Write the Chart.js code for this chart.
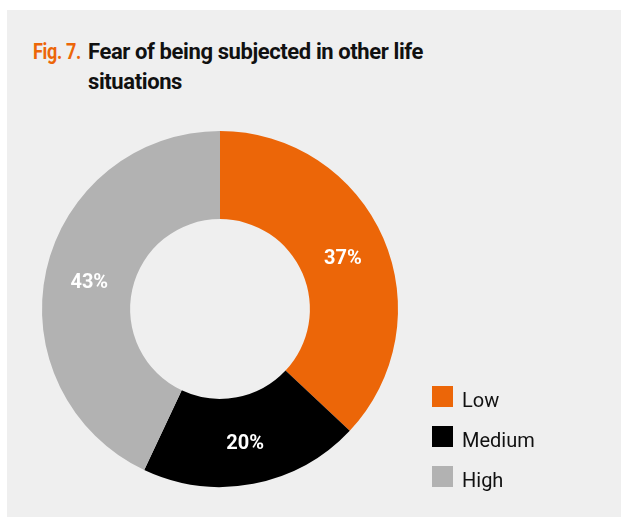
<!DOCTYPE html>
<html>
<head>
<meta charset="utf-8">
<script src="https://cdn.jsdelivr.net/npm/chart.js@4"></script>
<style>
  html, body { margin: 0; padding: 0; background: #ffffff; }
  body { width: 621px; height: 517px; position: relative; overflow: hidden; }
  .panel { position: absolute; left: 7px; top: 10px; right: 0; bottom: 0; background: #efefef; }
  .title { position: absolute; left: 0; top: 37px; font-family: Roboto, sans-serif; white-space: nowrap;
           font-weight: bold; font-size: 22px; line-height: 30px; letter-spacing: -0.4px; color: #111; }
  .title .fig { color: #ec6608; position: absolute; left: 33px; top: 0;
                transform: scaleX(0.82); transform-origin: left center; }
  .title .txt { position: absolute; left: 88px; top: 0; }
  canvas { position: absolute; left: 0; top: 0; }
</style>
</head>
<body>
<div class="panel"></div>
<div class="title">
  <span class="fig">Fig. 7.</span>
  <span class="txt">Fear of being subjected in other life<br>situations</span>
</div>
<canvas id="chart" width="621" height="517"></canvas>
<script>
// shares of respondents by fear level
const levels = ['Low', 'Medium', 'High'];
const shares = [37, 20, 43];
const colors = ['#ec6608', '#000000', '#b2b2b2'];

// white percentage text on each slice
const sliceLabels = {
    id: 'sliceLabels',
    afterDatasetsDraw(chart) {
        const ctx = chart.ctx;
        const meta = chart.getDatasetMeta(0);
        ctx.save();
        ctx.fillStyle = '#ffffff';
        ctx.font = 'bold 20px Roboto, sans-serif';
        ctx.textAlign = 'center';
        ctx.textBaseline = 'middle';
        meta.data.forEach((arc, i) => {
            const p = arc.getCenterPoint();
            ctx.fillText(shares[i] + '%', p.x, p.y + 3);
        });
        ctx.restore();
    }
};

// legend stacked at lower right
const sideLegend = {
    id: 'sideLegend',
    afterDraw(chart) {
        const ctx = chart.ctx;
        const x = 432, y0 = 386, step = 40, box = 21;
        ctx.save();
        ctx.font = '20px Roboto, sans-serif';
        ctx.textBaseline = 'alphabetic';
        chart.data.labels.forEach((lab, i) => {
            const y = y0 + i * step;
            ctx.fillStyle = chart.data.datasets[0].backgroundColor[i];
            ctx.fillRect(x, y, box, box);
            ctx.fillStyle = '#111111';
            ctx.fillText(lab, x + 30, y + 21);
        });
        ctx.restore();
    }
};

new Chart(document.getElementById('chart'), {
    type: 'doughnut',
    data: {
        labels: levels,
        datasets: [{ data: shares, backgroundColor: colors, borderWidth: 0 }]
    },
    options: {
        responsive: false,
        animation: false,
        cutout: '50.5%',
        layout: { padding: { left: 42, top: 131, right: 223, bottom: 30 } },
        plugins: { legend: { display: false }, tooltip: { enabled: false } }
    },
    plugins: [sliceLabels, sideLegend]
});
</script>
</body>
</html>
